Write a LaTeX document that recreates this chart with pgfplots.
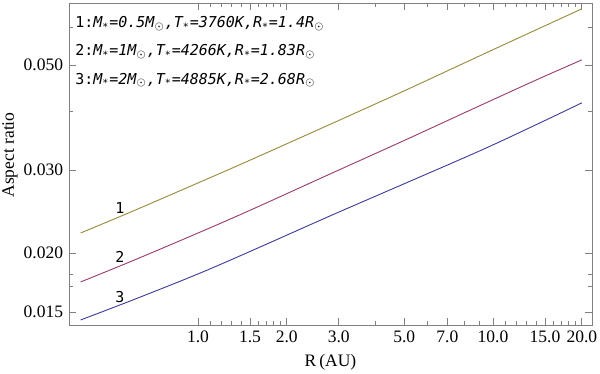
\documentclass[border=0pt]{standalone}
\usepackage{pgfplots}
\pgfplotsset{compat=1.18}
\usepackage{fontspec}
\setmainfont{Liberation Serif}
\newfontfamily\monofont{DejaVu Sans Mono}

\definecolor{mmaGold}{rgb}{0.6,0.547,0.24}
\definecolor{mmaRed}{rgb}{0.6,0.24,0.4428}
\definecolor{mmaBlue}{rgb}{0.24,0.24,0.6}

\newcommand{\sub}[1]{\textsubscript{#1}}
\newcommand{\sun}{$_{\odot}$}

\begin{document}
\begin{tikzpicture}
\begin{axis}[
  at={(0,0)}, anchor=south west,
  scale only axis,
  width=313.8pt, height=193.2pt,
  xmode=log, ymode=log,
  xmin=0.3654, xmax=21.65,
  ymin=0.01408, ymax=0.0677,
  xtick={1,1.5,2,3,5,7,10,15,20},
  xticklabels={1.0,1.5,2.0,3.0,5.0,7.0,10.0,15.0,20.0},
  minor xtick={1.1,1.2,1.3,1.4,1.6,1.7,1.8,1.9,4,6,8,9,11,12,13,14,16,17,18,19},
  ytick={0.015,0.02,0.03,0.05},
  yticklabels={0.015,0.020,0.030,0.050},
  minor ytick={0.017,0.018,0.04,0.06},
  /pgf/number format/assume math mode=true,
  ticklabel style={font=\fontsize{10.5}{12}\selectfont},
  axis line style={gray},
  tick style={gray, line width=0.4pt},
  major tick length=4.2pt,
  minor tick length=2.4pt,
  xlabel={R\,(AU)},
  ylabel={Aspect ratio},
  label style={font=\fontsize{10.5}{12}\selectfont},
  xlabel style={at={(axis description cs:0.5,-0.115)}, anchor=center},
  ylabel style={at={(axis description cs:-0.113,0.528)}, anchor=center, rotate=0},
]
% curve 1: M=0.5
\addplot[mmaGold, line width=0.55pt, smooth] coordinates {
(0.4,0.02205)(0.6,0.02452)(1,0.02815)(1.5,0.03145)(2.8,0.03745)
(5,0.04411)(9,0.0523)(14,0.0594)(20,0.0658)
};
% curve 2: M=1
\addplot[mmaRed, line width=0.55pt, smooth] coordinates {
(0.4,0.01737)(0.6,0.01926)(1,0.02205)(1.5,0.02463)(2.8,0.0294)
(5,0.03463)(9,0.0410)(14,0.0465)(20,0.0513)
};
% curve 3: M=2
\addplot[mmaBlue, line width=0.55pt, smooth] coordinates {
(0.4,0.01443)(0.6,0.01590)(1,0.01806)(1.5,0.02015)(2.8,0.02396)
(5,0.02804)(9,0.0329)(14,0.0374)(20,0.0416)
};

\node[font=\monofont\fontsize{9}{10}\selectfont] at (axis cs:0.544,0.0249) {1};
\node[font=\monofont\fontsize{9}{10}\selectfont] at (axis cs:0.544,0.01962) {2};
\node[font=\monofont\fontsize{9}{10}\selectfont] at (axis cs:0.544,0.01614) {3};

\node[anchor=west, inner sep=0pt, font=\monofont\fontsize{9}{10}\selectfont]
  at (rel axis cs:0.0115,0.935) {1:\textit{M\sub{*}=0.5M\sun,T\sub{*}=3760K,R\sub{*}=1.4R\sun}};
\node[anchor=west, inner sep=0pt, font=\monofont\fontsize{9}{10}\selectfont]
  at (rel axis cs:0.0115,0.848) {2:\textit{M\sub{*}=1M\sun,T\sub{*}=4266K,R\sub{*}=1.83R\sun}};
\node[anchor=west, inner sep=0pt, font=\monofont\fontsize{9}{10}\selectfont]
  at (rel axis cs:0.0115,0.760) {3:\textit{M\sub{*}=2M\sun,T\sub{*}=4885K,R\sub{*}=2.68R\sun}};
\end{axis}
\pgfresetboundingbox
\path (-41.4pt,-29.4pt) rectangle (318.6pt,195pt);
\end{tikzpicture}
\end{document}
